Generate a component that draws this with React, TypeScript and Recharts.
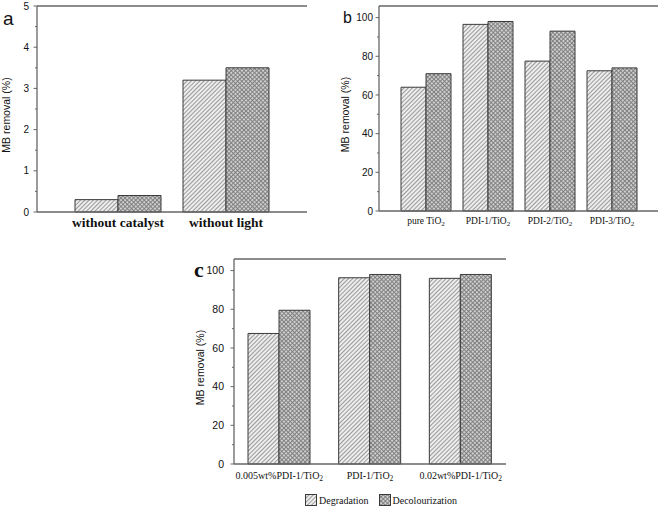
import React from 'react';
import { BarChart, Bar, XAxis, YAxis, Legend, ReferenceLine } from 'recharts';

// ---------- data ----------
const aCategories = ['without catalyst', 'without light'];
const aDegradation = [0.3, 3.2];
const aDecolourization = [0.4, 3.5];
const aMajorTicks = [0, 1, 2, 3, 4, 5];
const aMinorTicks = [0.5, 1.5, 2.5, 3.5, 4.5];

const bCategories = ['pure TiO2', 'PDI-1/TiO2', 'PDI-2/TiO2', 'PDI-3/TiO2'];
const bDegradation = [64, 96.5, 77.5, 72.5];
const bDecolourization = [71, 98, 93, 74];

const cCategories = ['0.005wt%PDI-1/TiO2', 'PDI-1/TiO2', '0.02wt%PDI-1/TiO2'];
const cDegradation = [67.5, 96.3, 96];
const cDecolourization = [79.5, 98, 98];

const pctMajorTicks = [0, 20, 40, 60, 80, 100];
const pctMinorTicks = [10, 30, 50, 70, 90];

const seriesNames = ['Degradation', 'Decolourization'];
const yTitle = 'MB removal (%)';

const build = (cats: string[], deg: number[], dec: number[]) =>
  cats.map((name, i) => ({ name, degradation: deg[i], decolourization: dec[i] }));

const aData = build(aCategories, aDegradation, aDecolourization);
const bData = build(bCategories, bDegradation, bDecolourization);
const cData = build(cCategories, cDegradation, cDecolourization);

// ---------- styles ----------
const AXIS = '#666';
const BAR_STROKE = '#3a3a3a';
const SANS = '"Liberation Sans", Arial, sans-serif';
const SERIF = '"Liberation Serif", "Times New Roman", serif';

const Patterns = ({ p }: { p: string }) => (
  <defs>
    <pattern id={`deg-${p}`} width={3} height={3} patternUnits="userSpaceOnUse" patternTransform="rotate(45)">
      <rect width={3} height={3} fill="#ededed" />
      <line x1={0.5} y1={0} x2={0.5} y2={3} stroke="#9a9a9a" strokeWidth={1} />
    </pattern>
    <pattern id={`dec-${p}`} width={3} height={3} patternUnits="userSpaceOnUse" patternTransform="rotate(45)">
      <rect width={3} height={3} fill="#cfcfcf" />
      <line x1={0.5} y1={0} x2={0.5} y2={3} stroke="#7a7a7a" strokeWidth={0.9} />
      <line x1={0} y1={0.5} x2={3} y2={0.5} stroke="#7a7a7a" strokeWidth={0.9} />
    </pattern>
  </defs>
);

const makeYTick = (major: number[], gap: number, fontSize: number) => (props: any) => {
  const { x, y, payload } = props;
  const v = payload.value;
  const isMajor = major.includes(v);
  return (
    <g>
      <line x1={x - (isMajor ? 3.5 : 2)} y1={y} x2={x} y2={y} stroke={AXIS} strokeWidth={1} />
      {isMajor && (
        <text x={x - gap} y={y} dy="0.36em" textAnchor="end" fontSize={fontSize} fontFamily={SANS} fill="#111">
          {v}
        </text>
      )}
    </g>
  );
};

const makeXTick = (offset: number, fontSize: number, fontFamily: string, fontWeight: number) => (props: any) => {
  const { x, y, payload } = props;
  const label: string = payload.value;
  const sub = label.endsWith('TiO2');
  return (
    <text x={x} y={y + offset} textAnchor="middle" fontSize={fontSize} fontFamily={fontFamily} fontWeight={fontWeight} fill="#111">
      {sub ? label.slice(0, -1) : label}
      {sub && (
        <tspan dy={2} fontSize={fontSize * 0.75}>
          2
        </tspan>
      )}
    </text>
  );
};

const makeYLabel = (xOff: number, fontSize: number) => (props: any) => {
  const vb = props.viewBox || {};
  const lx = (vb.x || 0) + xOff;
  const ly = (vb.y || 0) + (vb.height || 0) / 2 + 6;
  return (
    <text x={lx} y={ly} transform={`rotate(-90, ${lx}, ${ly})`} textAnchor="middle" fontSize={fontSize} fontFamily={SANS} fill="#111">
      {yTitle}
    </text>
  );
};

const legendFills = ['url(#deg-c)', 'url(#dec-c)'];

const LegendContent = () => (
  <div
    style={{
      display: 'flex',
      justifyContent: 'center',
      alignItems: 'center',
      height: 20,
      paddingLeft: 76,
      paddingTop: 4,
      boxSizing: 'border-box',
      fontFamily: SERIF,
      fontSize: 10,
      color: '#111',
    }}
  >
    {seriesNames.map((name, i) => (
      <span key={name} style={{ display: 'flex', alignItems: 'center', marginRight: i === 0 ? 10 : 0 }}>
        <svg width={12} height={12} style={{ display: 'block' }}>
          <rect x={0.5} y={0.5} width={11} height={11} fill={legendFills[i]} stroke={BAR_STROKE} />
        </svg>
        <span style={{ marginLeft: 2 }}>{name}</span>
      </span>
    ))}
  </div>
);

type PanelProps = {
  id: string;
  data: any[];
  width: number;
  height: number;
  margin: any;
  yWidth: number;
  xHeight: number;
  domain: [number, number];
  major: number[];
  minor: number[];
  tickGap: number;
  tickFont: number;
  xOffset: number;
  xFont: number;
  xFamily: string;
  xWeight: number;
  padding: { left: number; right: number };
  barSize: number;
  labelX: number;
  legend?: boolean;
};

const Panel = (p: PanelProps) => (
  <BarChart width={p.width} height={p.height} data={p.data} margin={p.margin} barGap={0}>
    <Patterns p={p.id} />
    <XAxis
      dataKey="name"
      type="category"
      height={p.xHeight}
      padding={p.padding}
      axisLine={{ stroke: AXIS, strokeWidth: 1.3 }}
      tickLine={false}
      tickSize={0}
      tickMargin={0}
      interval={0}
      tick={makeXTick(p.xOffset, p.xFont, p.xFamily, p.xWeight)}
    />
    <YAxis
      type="number"
      domain={p.domain}
      width={p.yWidth}
      ticks={[...p.major, ...p.minor]}
      interval={0}
      axisLine={{ stroke: AXIS, strokeWidth: 1.3 }}
      tickLine={false}
      tickSize={0}
      tickMargin={0}
      tick={makeYTick(p.major, p.tickGap, p.tickFont)}
      label={{ content: makeYLabel(p.labelX, 10.5) }}
    />
    <YAxis yAxisId="right" orientation="right" width={0} tick={false} tickLine={false} axisLine={{ stroke: AXIS, strokeWidth: 1.3 }} />
    {p.legend && <Legend verticalAlign="bottom" height={20} content={LegendContent} />}
    <ReferenceLine y={p.domain[1]} stroke={AXIS} strokeWidth={1.3} />
    <Bar dataKey="degradation" name={seriesNames[0]} fill={`url(#deg-${p.id})`} stroke={BAR_STROKE} strokeWidth={1} barSize={p.barSize} isAnimationActive={false} />
    <Bar dataKey="decolourization" name={seriesNames[1]} fill={`url(#dec-${p.id})`} stroke={BAR_STROKE} strokeWidth={1} barSize={p.barSize} isAnimationActive={false} />
  </BarChart>
);

export default function App() {
  return (
    <div style={{ position: 'absolute', left: 0, top: 0, width: 661, height: 508, background: '#fff', overflow: 'hidden' }}>
      <div style={{ position: 'absolute', left: 0, top: 0 }}>
        <Panel
          id="a"
          data={aData}
          width={330}
          height={240}
          margin={{ top: 6, right: 23, bottom: 0, left: 0 }}
          yWidth={37}
          xHeight={28}
          domain={[0, 5]}
          major={aMajorTicks}
          minor={aMinorTicks}
          tickGap={8}
          tickFont={10}
          xOffset={15}
          xFont={13.5}
          xFamily={SERIF}
          xWeight={700}
          padding={{ left: 27, right: 27 }}
          barSize={43}
          labelX={10}
        />
      </div>
      <div style={{ position: 'absolute', left: 330, top: 0 }}>
        <Panel
          id="b"
          data={bData}
          width={331}
          height={240}
          margin={{ top: 6, right: 3, bottom: 0, left: 0 }}
          yWidth={49}
          xHeight={29}
          domain={[0, 106]}
          major={pctMajorTicks}
          minor={pctMinorTicks}
          tickGap={6}
          tickFont={10}
          xOffset={13}
          xFont={9.5}
          xFamily={SERIF}
          xWeight={400}
          padding={{ left: 16, right: 15 }}
          barSize={25}
          labelX={19}
        />
      </div>
      <div style={{ position: 'absolute', left: 180, top: 230 }}>
        <Panel
          id="c"
          data={cData}
          width={340}
          height={278}
          margin={{ top: 29, right: 14, bottom: 0, left: 0 }}
          yWidth={54}
          xHeight={24}
          domain={[0, 106]}
          major={pctMajorTicks}
          minor={pctMinorTicks}
          tickGap={10}
          tickFont={10.5}
          xOffset={15}
          xFont={10}
          xFamily={SERIF}
          xWeight={400}
          padding={{ left: 0, right: 0 }}
          barSize={31}
          labelX={24}
          legend
        />
      </div>
      <svg width={661} height={508} style={{ position: 'absolute', left: 0, top: 0, pointerEvents: 'none' }}>
        <text x={3} y={25} fontSize={19} fontFamily={SANS} fill="#111">a</text>
        <text x={343} y={23} fontSize={16} fontFamily={SANS} fill="#111">b</text>
        <text x={194} y={277} fontSize={22} fontFamily={SERIF} fontWeight={700} fill="#111">c</text>
      </svg>
    </div>
  );
}
